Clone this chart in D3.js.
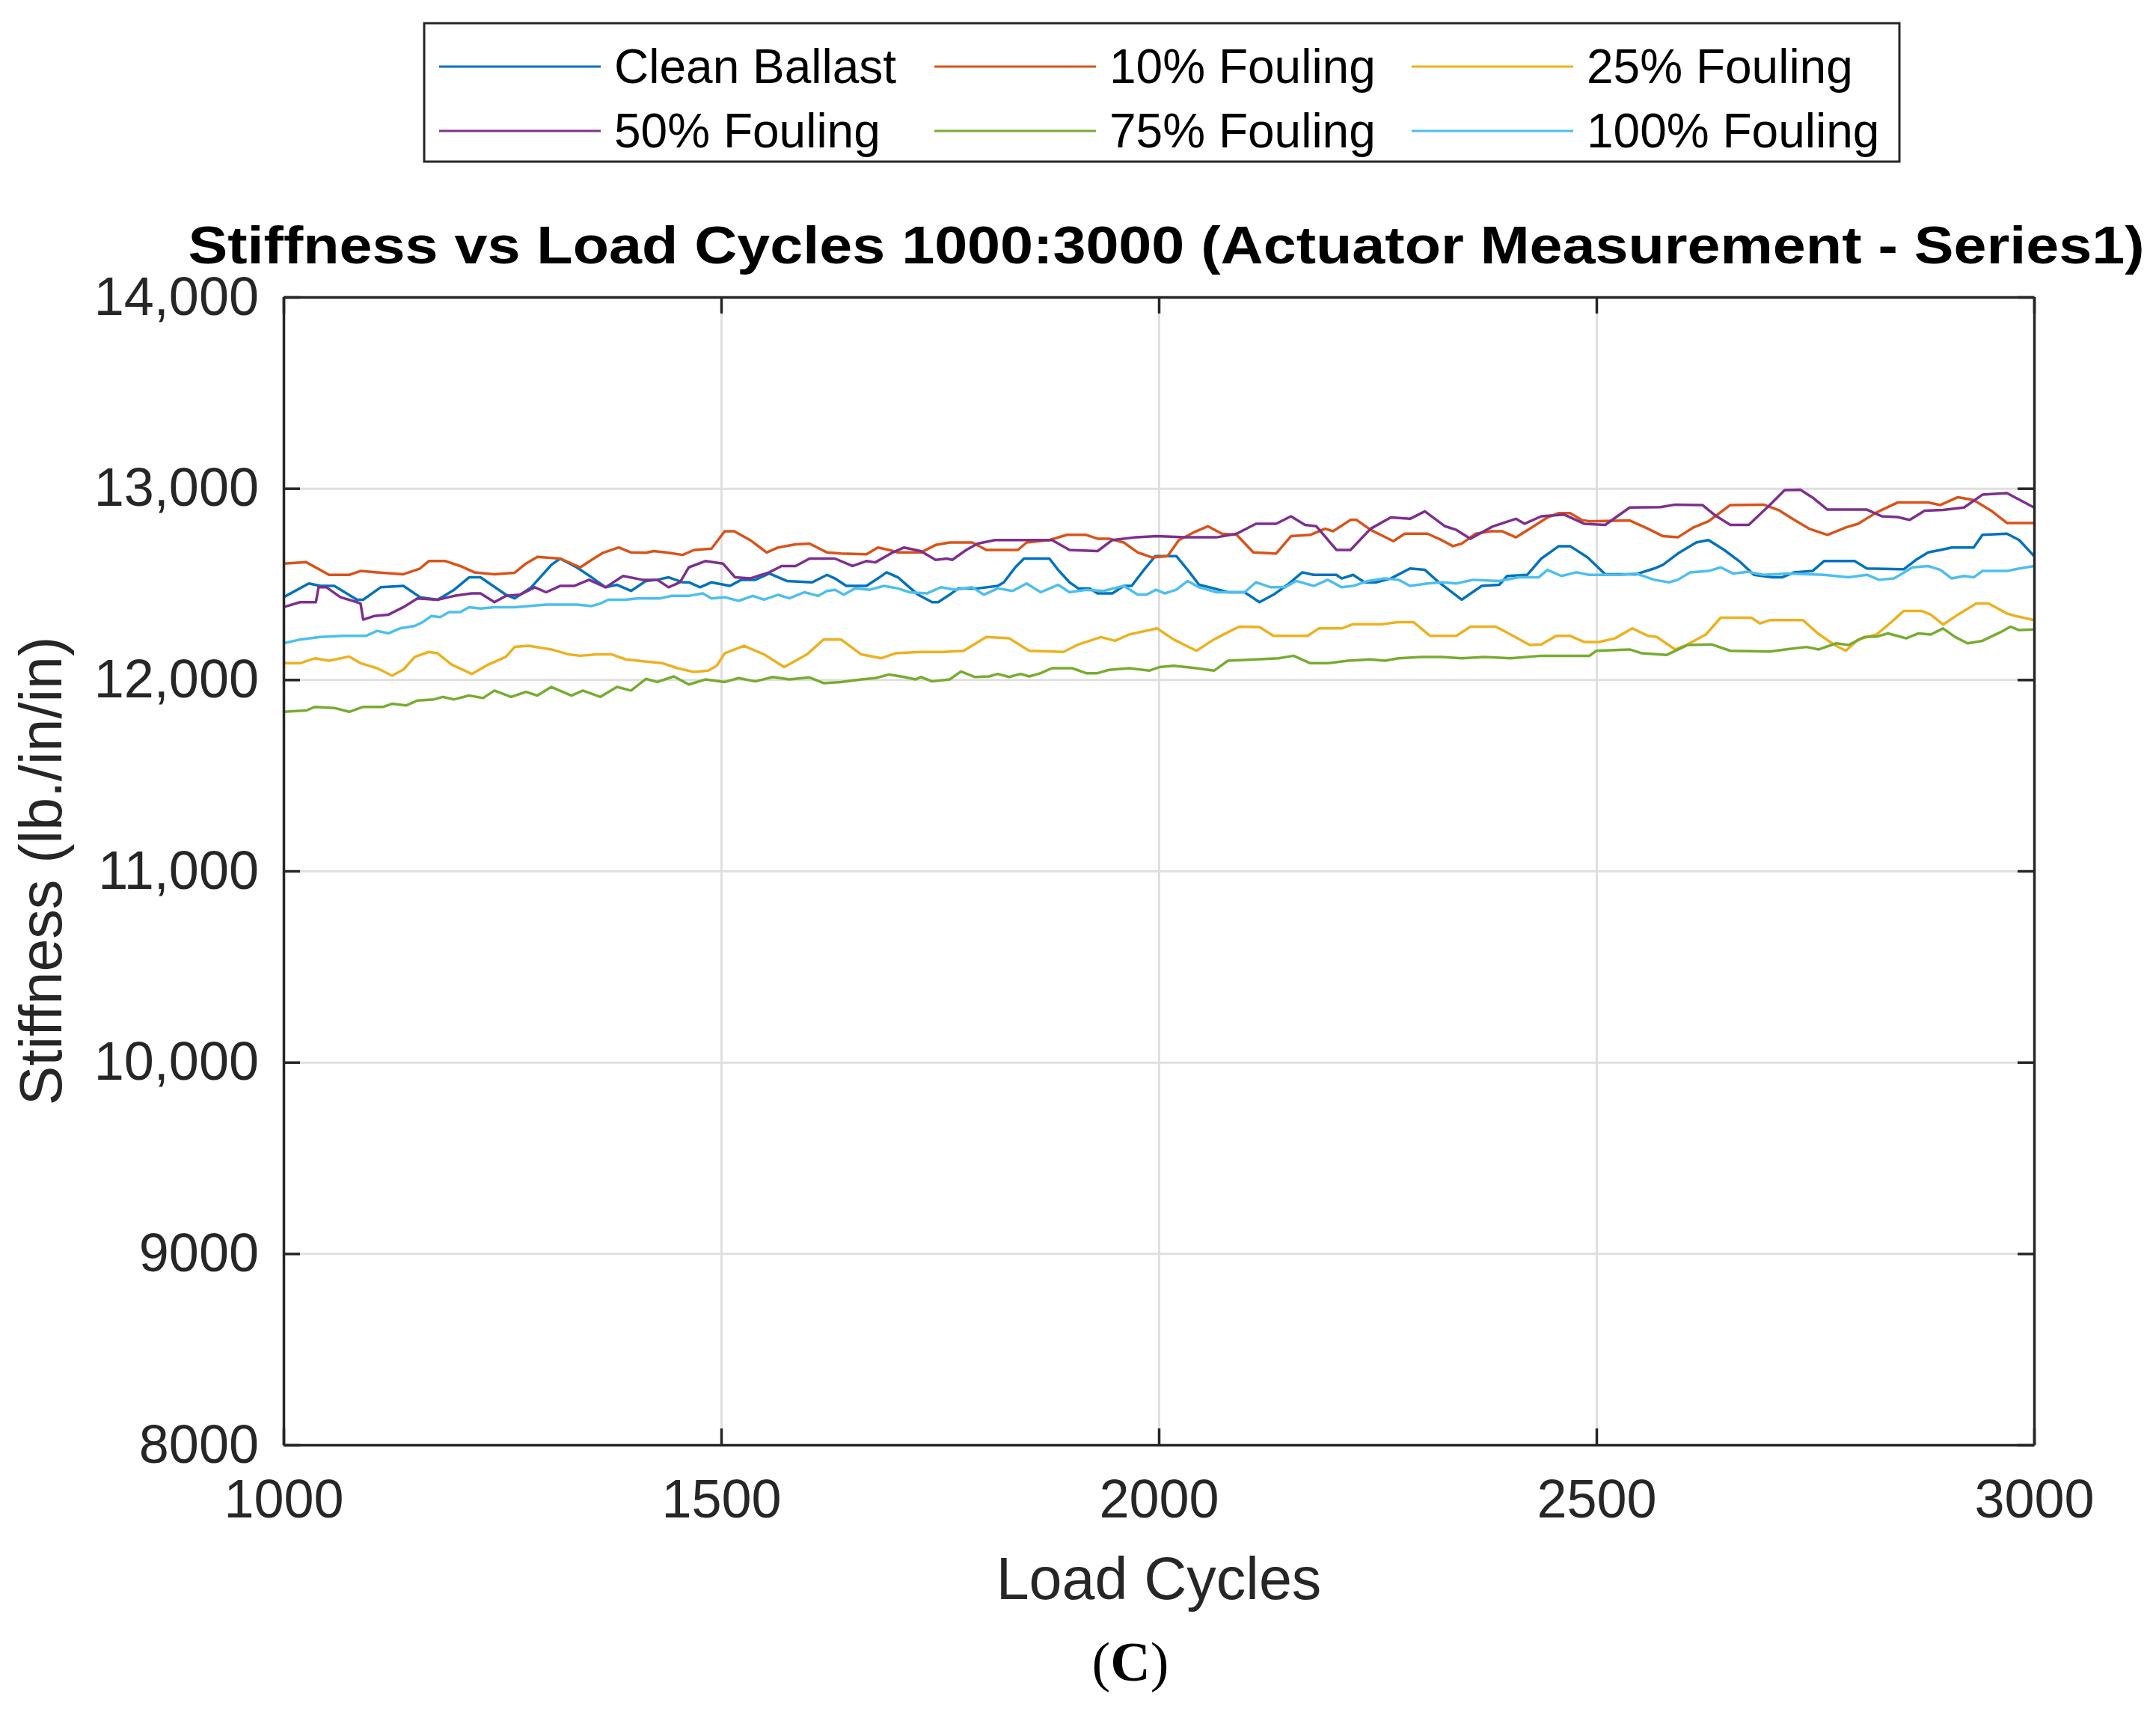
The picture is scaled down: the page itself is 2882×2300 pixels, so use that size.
<!DOCTYPE html>
<html lang="en">
<head>
<meta charset="UTF-8">
<title>Stiffness vs Load Cycles</title>
<script src="https://d3js.org/d3.v7.min.js"></script>
<style>
    body {
        margin: 0;
        background: #ffffff;
    }
    svg text {
        font-family: "Liberation Sans", Arial, Helvetica, sans-serif;
    }
    .grid line {
        stroke: #dfdfdf;
        stroke-width: 3px;
    }
    .grid path {
        display: none;
    }
    .axis path, .axis line {
        stroke: #262626;
        stroke-width: 3.5px;
    }
    .axis text {
        fill: #262626;
        font-size: 72px;
    }
    .serie {
        fill: none;
        stroke-width: 3.5px;
        stroke-linejoin: round;
    }
</style>
</head>
<body>
<svg id="chart" width="2882" height="2300"></svg>
<script>
// Datos: [ciclos de carga, rigidez]
const cleanBallast = [[1000,12431],[1029,12503],[1042,12490],[1058,12490],[1084,12418],[1091,12418],[1111,12483],[1137,12490],[1156,12431],[1176,12418],[1195,12470],[1212,12535],[1225,12535],[1254,12444],[1264,12425],[1283,12483],[1306,12600],[1316,12633],[1335,12587],[1352,12535],[1368,12483],[1381,12496],[1397,12464],[1414,12516],[1427,12522],[1440,12535],[1456,12509],[1463,12509],[1476,12483],[1489,12509],[1510,12490],[1523,12522],[1539,12522],[1555,12555],[1575,12516],[1604,12509],[1621,12548],[1630,12529],[1643,12490],[1666,12490],[1679,12529],[1689,12561],[1702,12535],[1715,12483],[1725,12444],[1741,12405],[1748,12405],[1761,12444],[1771,12477],[1793,12477],[1816,12490],[1823,12509],[1836,12587],[1846,12633],[1875,12633],[1885,12574],[1898,12509],[1908,12477],[1921,12477],[1930,12451],[1947,12451],[1960,12490],[1969,12490],[1983,12574],[1996,12646],[2020,12646],[2033,12574],[2046,12496],[2063,12477],[2079,12457],[2098,12457],[2115,12405],[2131,12444],[2147,12496],[2164,12561],[2177,12548],[2203,12548],[2209,12529],[2222,12548],[2235,12509],[2248,12509],[2265,12529],[2287,12581],[2304,12574],[2320,12509],[2346,12418],[2369,12490],[2389,12496],[2398,12542],[2421,12548],[2437,12633],[2457,12698],[2470,12698],[2490,12639],[2510,12551],[2545,12551],[2566,12581],[2576,12600],[2593,12659],[2614,12717],[2628,12730],[2646,12678],[2663,12620],[2680,12548],[2701,12535],[2712,12535],[2726,12561],[2747,12568],[2760,12620],[2795,12620],[2809,12581],[2851,12577],[2865,12626],[2879,12665],[2893,12678],[2906,12691],[2931,12691],[2941,12757],[2969,12763],[2983,12730],[3000,12646]];

const fouling10 = [[1000,12607],[1026,12614],[1052,12548],[1075,12548],[1088,12568],[1107,12561],[1137,12551],[1156,12581],[1166,12620],[1185,12620],[1202,12594],[1218,12561],[1241,12551],[1264,12559],[1277,12607],[1290,12642],[1316,12633],[1339,12587],[1352,12626],[1365,12663],[1383,12691],[1397,12665],[1414,12663],[1423,12672],[1440,12663],[1456,12652],[1469,12678],[1489,12685],[1504,12776],[1515,12776],[1533,12730],[1552,12665],[1565,12691],[1585,12707],[1601,12711],[1621,12665],[1637,12659],[1666,12655],[1679,12691],[1692,12678],[1702,12665],[1728,12665],[1745,12704],[1761,12717],[1787,12717],[1803,12678],[1839,12678],[1849,12717],[1875,12730],[1895,12757],[1917,12757],[1930,12737],[1943,12737],[1960,12717],[1976,12665],[1992,12639],[2010,12646],[2023,12730],[2040,12770],[2056,12802],[2072,12763],[2089,12757],[2108,12665],[2134,12659],[2151,12750],[2173,12757],[2190,12789],[2199,12776],[2219,12835],[2226,12835],[2242,12783],[2268,12724],[2281,12763],[2307,12763],[2323,12730],[2336,12698],[2346,12711],[2362,12763],[2379,12776],[2392,12776],[2408,12744],[2424,12789],[2444,12848],[2457,12871],[2470,12871],[2483,12835],[2492,12828],[2538,12832],[2559,12789],[2576,12750],[2593,12744],[2611,12796],[2628,12828],[2653,12913],[2691,12915],[2708,12887],[2726,12835],[2743,12789],[2764,12757],[2785,12796],[2799,12815],[2820,12874],[2844,12926],[2879,12926],[2893,12913],[2913,12954],[2931,12939],[2952,12880],[2969,12819],[3000,12819]];

const fouling25 = [[1000,12086],[1019,12086],[1036,12112],[1052,12099],[1075,12121],[1088,12086],[1107,12060],[1124,12021],[1137,12053],[1150,12119],[1166,12145],[1176,12138],[1192,12079],[1215,12030],[1234,12079],[1254,12119],[1264,12171],[1280,12177],[1306,12158],[1326,12132],[1339,12125],[1358,12132],[1375,12132],[1391,12106],[1417,12093],[1433,12086],[1450,12060],[1469,12040],[1485,12047],[1495,12073],[1504,12138],[1526,12177],[1549,12132],[1572,12066],[1598,12132],[1617,12210],[1637,12210],[1660,12132],[1683,12112],[1699,12138],[1728,12145],[1754,12145],[1777,12151],[1803,12223],[1829,12216],[1852,12151],[1891,12145],[1908,12184],[1934,12223],[1950,12203],[1966,12236],[1998,12268],[2017,12210],[2043,12151],[2063,12210],[2082,12255],[2092,12277],[2115,12275],[2131,12229],[2170,12229],[2183,12268],[2209,12268],[2222,12290],[2255,12290],[2274,12301],[2291,12301],[2310,12229],[2340,12229],[2356,12277],[2385,12277],[2402,12236],[2424,12181],[2437,12184],[2454,12229],[2470,12229],[2486,12197],[2503,12197],[2521,12216],[2541,12268],[2559,12229],[2569,12223],[2590,12158],[2604,12184],[2625,12236],[2642,12324],[2677,12324],[2687,12294],[2698,12311],[2736,12311],[2753,12242],[2771,12184],[2785,12151],[2799,12210],[2820,12236],[2837,12301],[2851,12359],[2872,12359],[2882,12340],[2896,12288],[2913,12340],[2934,12398],[2948,12398],[2969,12346],[2979,12333],[3000,12311]];

const fouling50 = [[1000,12379],[1019,12405],[1037,12405],[1040,12483],[1049,12483],[1065,12431],[1084,12405],[1088,12398],[1091,12314],[1104,12333],[1120,12340],[1137,12379],[1153,12425],[1176,12418],[1195,12438],[1215,12451],[1225,12451],[1241,12405],[1254,12438],[1270,12444],[1287,12483],[1300,12457],[1316,12490],[1332,12490],[1349,12522],[1368,12483],[1388,12542],[1410,12522],[1427,12522],[1440,12483],[1453,12509],[1463,12587],[1482,12620],[1502,12607],[1516,12535],[1533,12529],[1555,12561],[1569,12594],[1585,12594],[1601,12633],[1630,12633],[1650,12594],[1666,12620],[1676,12613],[1696,12665],[1709,12691],[1728,12672],[1745,12626],[1758,12633],[1764,12626],[1780,12678],[1793,12711],[1813,12730],[1846,12730],[1878,12730],[1898,12678],[1930,12672],[1947,12730],[1973,12744],[1998,12750],[2030,12744],[2066,12744],[2089,12763],[2111,12815],[2134,12815],[2151,12854],[2167,12809],[2180,12802],[2203,12678],[2219,12678],[2242,12789],[2265,12848],[2287,12841],[2304,12880],[2327,12802],[2340,12783],[2356,12737],[2382,12802],[2408,12841],[2418,12815],[2437,12854],[2463,12863],[2486,12815],[2510,12809],[2538,12900],[2573,12902],[2590,12915],[2621,12913],[2635,12861],[2653,12809],[2674,12809],[2698,12913],[2715,12991],[2733,12993],[2747,12952],[2764,12889],[2809,12889],[2826,12854],[2844,12850],[2858,12835],[2875,12883],[2896,12887],[2920,12900],[2941,12967],[2969,12975],[3000,12900]];

const fouling75 = [[1000,11832],[1026,11839],[1036,11858],[1058,11852],[1075,11832],[1091,11858],[1114,11858],[1124,11874],[1140,11865],[1153,11891],[1172,11897],[1182,11910],[1195,11897],[1212,11917],[1228,11904],[1241,11943],[1260,11910],[1277,11936],[1290,11917],[1306,11962],[1329,11917],[1342,11943],[1362,11910],[1381,11962],[1397,11943],[1414,12004],[1427,11988],[1446,12017],[1463,11975],[1482,12001],[1504,11988],[1520,12008],[1539,11991],[1559,12014],[1578,12001],[1601,12012],[1617,11982],[1637,11988],[1660,12001],[1676,12008],[1692,12027],[1709,12014],[1722,12001],[1728,12014],[1741,11991],[1761,12001],[1774,12043],[1790,12014],[1806,12017],[1816,12030],[1829,12014],[1842,12030],[1852,12017],[1865,12034],[1878,12060],[1901,12060],[1917,12034],[1930,12034],[1943,12051],[1966,12060],[1989,12047],[2001,12066],[2017,12073],[2043,12060],[2063,12047],[2079,12099],[2111,12106],[2137,12112],[2154,12125],[2173,12086],[2193,12086],[2216,12099],[2242,12106],[2258,12099],[2274,12112],[2300,12119],[2323,12119],[2346,12112],[2372,12119],[2402,12112],[2437,12125],[2470,12125],[2492,12125],[2500,12151],[2538,12158],[2552,12138],[2580,12129],[2604,12181],[2632,12184],[2653,12151],[2698,12147],[2719,12160],[2740,12171],[2754,12158],[2774,12190],[2788,12181],[2806,12223],[2820,12225],[2833,12242],[2854,12216],[2868,12242],[2882,12236],[2896,12268],[2910,12223],[2924,12190],[2941,12203],[2962,12249],[2973,12277],[2983,12259],[3000,12262]];

const fouling100 = [[1000,12190],[1019,12210],[1042,12223],[1068,12229],[1094,12229],[1107,12255],[1120,12242],[1133,12268],[1150,12281],[1159,12301],[1169,12333],[1179,12327],[1189,12353],[1202,12353],[1212,12379],[1225,12372],[1241,12379],[1264,12379],[1280,12385],[1300,12392],[1319,12392],[1335,12392],[1352,12385],[1362,12398],[1371,12418],[1391,12418],[1404,12425],[1430,12425],[1443,12438],[1463,12438],[1479,12451],[1489,12425],[1504,12431],[1520,12412],[1536,12438],[1549,12418],[1565,12444],[1578,12425],[1595,12457],[1611,12438],[1621,12464],[1630,12470],[1640,12444],[1653,12477],[1670,12470],[1686,12490],[1702,12477],[1715,12457],[1735,12451],[1751,12483],[1767,12470],[1787,12483],[1800,12444],[1816,12477],[1833,12464],[1849,12503],[1865,12457],[1885,12496],[1898,12457],[1917,12470],[1937,12464],[1960,12490],[1976,12444],[1986,12444],[1997,12470],[2007,12451],[2020,12470],[2033,12516],[2046,12483],[2066,12457],[2098,12457],[2111,12509],[2128,12483],[2144,12483],[2157,12516],[2177,12490],[2193,12522],[2209,12483],[2222,12490],[2239,12516],[2258,12529],[2274,12522],[2287,12490],[2307,12503],[2323,12509],[2340,12503],[2359,12522],[2389,12516],[2411,12535],[2434,12535],[2444,12574],[2460,12542],[2477,12561],[2492,12548],[2527,12548],[2545,12555],[2566,12522],[2583,12509],[2593,12522],[2607,12561],[2628,12568],[2642,12587],[2656,12555],[2673,12564],[2691,12548],[2719,12555],[2760,12548],[2788,12535],[2809,12548],[2823,12522],[2840,12529],[2861,12587],[2879,12594],[2893,12574],[2906,12529],[2920,12542],[2931,12535],[2941,12568],[2969,12568],[2983,12581],[3000,12594]];

const seriesNames = ["Clean Ballast", "10% Fouling", "25% Fouling", "50% Fouling", "75% Fouling", "100% Fouling"];
const seriesColors = ["#0072BD", "#D95319", "#EDB120", "#7E2F8E", "#77AC30", "#4DBEEE"];
const xTicks = [1000, 1500, 2000, 2500, 3000];
const yTicks = [8000, 9000, 10000, 11000, 12000, 13000, 14000];

const series = [cleanBallast, fouling10, fouling25, fouling50, fouling75, fouling100]
    .map((values, i) => ({ name: seriesNames[i], color: seriesColors[i], values }));

const margin = { left: 379, right: 2719, top: 397, bottom: 1931 };

const svg = d3.select("#chart");

const x = d3.scaleLinear().domain([1000, 3000]).range([margin.left, margin.right]);
const y = d3.scaleLinear().domain([8000, 14000]).range([margin.bottom, margin.top]);

const fmtY = d => d >= 10000 ? d3.format(",")(d) : String(d);

// Rejilla
svg.append("g")
    .attr("class", "grid")
    .attr("transform", `translate(0,${margin.bottom})`)
    .call(d3.axisBottom(x).tickValues(xTicks.slice(1, -1)).tickSize(-(margin.bottom - margin.top)).tickFormat(""));

svg.append("g")
    .attr("class", "grid")
    .attr("transform", `translate(${margin.left},0)`)
    .call(d3.axisLeft(y).tickValues(yTicks.slice(1, -1)).tickSize(-(margin.right - margin.left)).tickFormat(""));

// Series
const line = d3.line().x(d => x(d[0])).y(d => y(d[1]));

svg.append("g")
    .selectAll("path")
    .data(series)
    .enter().append("path")
    .attr("class", "serie")
    .attr("stroke", d => d.color)
    .attr("d", d => line(d.values));

// Ejes (caja completa, marcas hacia dentro)
svg.append("g")
    .attr("class", "axis")
    .attr("transform", `translate(0,${margin.bottom})`)
    .call(d3.axisBottom(x).tickValues(xTicks).tickSize(-22).tickPadding(46).tickSizeOuter(0).tickFormat(d3.format("d")));

svg.append("g")
    .attr("class", "axis")
    .attr("transform", `translate(0,${margin.top})`)
    .call(d3.axisTop(x).tickValues(xTicks).tickSize(-22).tickSizeOuter(0).tickFormat(""));

svg.append("g")
    .attr("class", "axis")
    .attr("transform", `translate(${margin.left},0)`)
    .call(d3.axisLeft(y).tickValues(yTicks).tickSize(-22).tickPadding(33).tickSizeOuter(0).tickFormat(fmtY));

svg.append("g")
    .attr("class", "axis")
    .attr("transform", `translate(${margin.right},0)`)
    .call(d3.axisRight(y).tickValues(yTicks).tickSize(-22).tickSizeOuter(0).tickFormat(""));

// Títulos
svg.append("text")
    .attr("x", 1559)
    .attr("y", 352)
    .attr("text-anchor", "middle")
    .attr("font-size", 70)
    .attr("font-weight", "bold")
    .attr("textLength", 2615)
    .attr("lengthAdjust", "spacingAndGlyphs")
    .attr("fill", "#000")
    .text("Stiffness vs Load Cycles 1000:3000 (Actuator Measurement - Series1)");

svg.append("text")
    .attr("x", (margin.left + margin.right) / 2)
    .attr("y", 2137)
    .attr("text-anchor", "middle")
    .attr("font-size", 79)
    .attr("fill", "#262626")
    .text("Load Cycles");

svg.append("text")
    .attr("transform", `translate(82,${(margin.top + margin.bottom) / 2}) rotate(-90)`)
    .attr("text-anchor", "middle")
    .attr("font-size", 79)
    .attr("fill", "#262626")
    .text("Stiffness (lb./in/in)");

const etiqueta = svg.append("text")
    .attr("x", 1511)
    .attr("y", 2246)
    .attr("text-anchor", "middle")
    .attr("font-size", 74)
    .style("font-family", "'Liberation Serif', 'Times New Roman', serif")
    .attr("fill", "#000");
etiqueta.append("tspan").text("(");
etiqueta.append("tspan").attr("font-weight", "bold").text("C");
etiqueta.append("tspan").text(")");

// Leyenda
const legend = svg.append("g").attr("transform", "translate(567,31)");
legend.append("rect")
    .attr("width", 1972)
    .attr("height", 185)
    .attr("fill", "#fff")
    .attr("stroke", "#262626")
    .attr("stroke-width", 3);

const colX = [20, 682, 1320];
const rowY = [58, 144];

const item = legend.selectAll("g.item")
    .data(series)
    .enter().append("g")
    .attr("class", "item")
    .attr("transform", (d, i) => `translate(${colX[i % 3]},${rowY[Math.floor(i / 3)]})`);

item.append("line")
    .attr("x1", 0).attr("x2", 216)
    .attr("stroke", d => d.color)
    .attr("stroke-width", 3);

item.append("text")
    .attr("x", 234)
    .attr("dy", "0.35em")
    .attr("font-size", 64)
    .attr("fill", "#000")
    .text(d => d.name);
</script>
</body>
</html>
